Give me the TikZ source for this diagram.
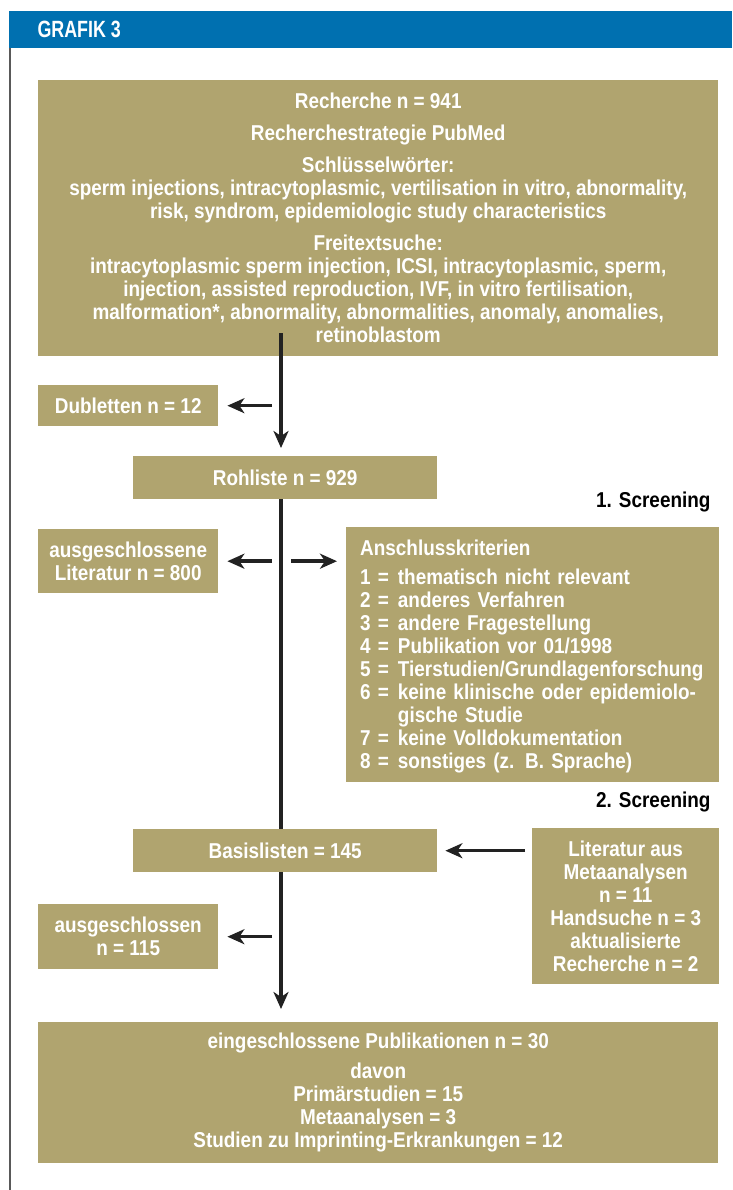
\documentclass[tikz,border=0pt]{standalone}
\usepackage{fontspec}
\setmainfont{Liberation Sans}[FakeStretch=0.88]
\newfontfamily\titlefont{Liberation Sans}[FakeStretch=0.76]
\usetikzlibrary{arrows.meta}
\definecolor{khaki}{RGB}{176,164,111}
\definecolor{grafikblue}{RGB}{0,112,176}
\definecolor{arrowdark}{RGB}{34,34,34}
\begin{document}
\begin{tikzpicture}[x=1pt,y=-1pt,
    box/.style={fill=khaki,text=white,inner sep=0pt,anchor=north west,align=center,
      font=\bfseries\fontsize{21.5}{23}\selectfont},
    arr/.style={draw=arrowdark,line width=3.5pt,-{Stealth[length=17pt,width=15pt,inset=5pt]}},
    spine/.style={draw=arrowdark,line width=3.5pt}]
  \useasboundingbox (0,0) rectangle (732,1190);
  \fill[grafikblue] (9,11) rectangle (732,48);
  \node[anchor=west,text=white,font=\titlefont\bfseries\fontsize{23.5}{25}\selectfont] (title) at (34,29.5) {GRAFIK 3};
  \draw[gray!70!black,line width=1.5pt] (10,48) -- (10,1190);

  \node[box,minimum width=680,minimum height=276] (recherche) at (38,80)
    {Recherche n = 941\\[9pt]
     Recherchestrategie PubMed\\[9pt]
     Schlüsselwörter:\\
     sperm injections, intracytoplasmic, vertilisation in vitro, abnormality,\\
     risk, syndrom, epidemiologic study characteristics\\[9pt]
     Freitextsuche:\\
     intracytoplasmic sperm injection, ICSI, intracytoplasmic, sperm,\\
     injection, assisted reproduction, IVF, in vitro fertilisation,\\
     malformation*, abnormality, abnormalities, anomaly, anomalies,\\
     retinoblastom};
  \node[box,minimum width=180,minimum height=41] (dubletten) at (38,385) {Dubletten n = 12};
  \node[box,minimum width=304,minimum height=43] (rohliste) at (133,456) {Rohliste n = 929};
  \node[anchor=south east,font=\bfseries\fontsize{21.5}{23}\selectfont] (screen1) at (714,516) {1. Screening};
  \node[box,minimum width=180,minimum height=64] (ausglit) at (38,529)
    {ausgeschlossene\\Literatur n = 800};
  \node[box,minimum width=373,minimum height=255,align=left,text width=345,inner xsep=14pt] (kriterien) at (346,527)
    {\rule{0pt}{22pt}Anschlusskriterien\\[6pt]
     \begin{tabular}[t]{@{}l@{\hspace{9pt}}l@{}}
       1 = & thematisch nicht relevant\\
       2 = & anderes Verfahren\\
       3 = & andere Fragestellung\\
       4 = & Publikation vor 01/1998\\
       5 = & Tierstudien/Grundlagenforschung\\
       6 = & keine klinische oder epidemiolo-\\
           & gische Studie\\
       7 = & keine Volldokumentation\\
       8 = & sonstiges (z. B. Sprache)
     \end{tabular}};
  \node[anchor=south east,font=\bfseries\fontsize{21.5}{23}\selectfont] (screen2) at (714,816) {2. Screening};
  \node[box,minimum width=304,minimum height=43] (basis) at (133,829) {Basislisten = 145};
  \node[box,minimum width=187,minimum height=156] (zusatz) at (532,828)
    {Literatur aus\\Metaanalysen\\n = 11\\Handsuche n = 3\\aktualisierte\\Recherche n = 2};
  \node[box,minimum width=180,minimum height=65] (ausg) at (38,904)
    {ausgeschlossen\\n = 115};
  \node[box,minimum width=680,minimum height=141] (eingeschl) at (38,1022)
    {eingeschlossene Publikationen n = 30\\[7pt]
     davon\\Primärstudien = 15\\Metaanalysen = 3\\Studien zu Imprinting-Erkrankungen = 12};

  \coordinate (top) at (281,333);
  \begin{scope}
    \draw[arr,shorten >=8pt] (top) -- (top |- rohliste.north);
    \draw[spine] (top |- rohliste.south) -- (top |- basis.north);
    \draw[arr,shorten >=13pt] (top |- basis.south) -- (top |- eingeschl.north);
    \draw[arr,shorten <=9pt,shorten >=9pt] (top |- dubletten.east) -- (dubletten.east);
    \draw[arr,shorten <=9pt,shorten >=9pt] (top |- ausglit.east) -- (ausglit.east);
    \draw[arr,shorten <=10pt,shorten >=9pt] (top |- ausglit.east) -- (ausglit.east -| kriterien.west);
    \draw[arr,shorten <=7pt,shorten >=8pt] (basis.east -| zusatz.west) -- (basis.east);
    \draw[arr,shorten <=9pt,shorten >=9pt] (top |- ausg.east) -- (ausg.east);
  \end{scope}
\end{tikzpicture}
\end{document}
